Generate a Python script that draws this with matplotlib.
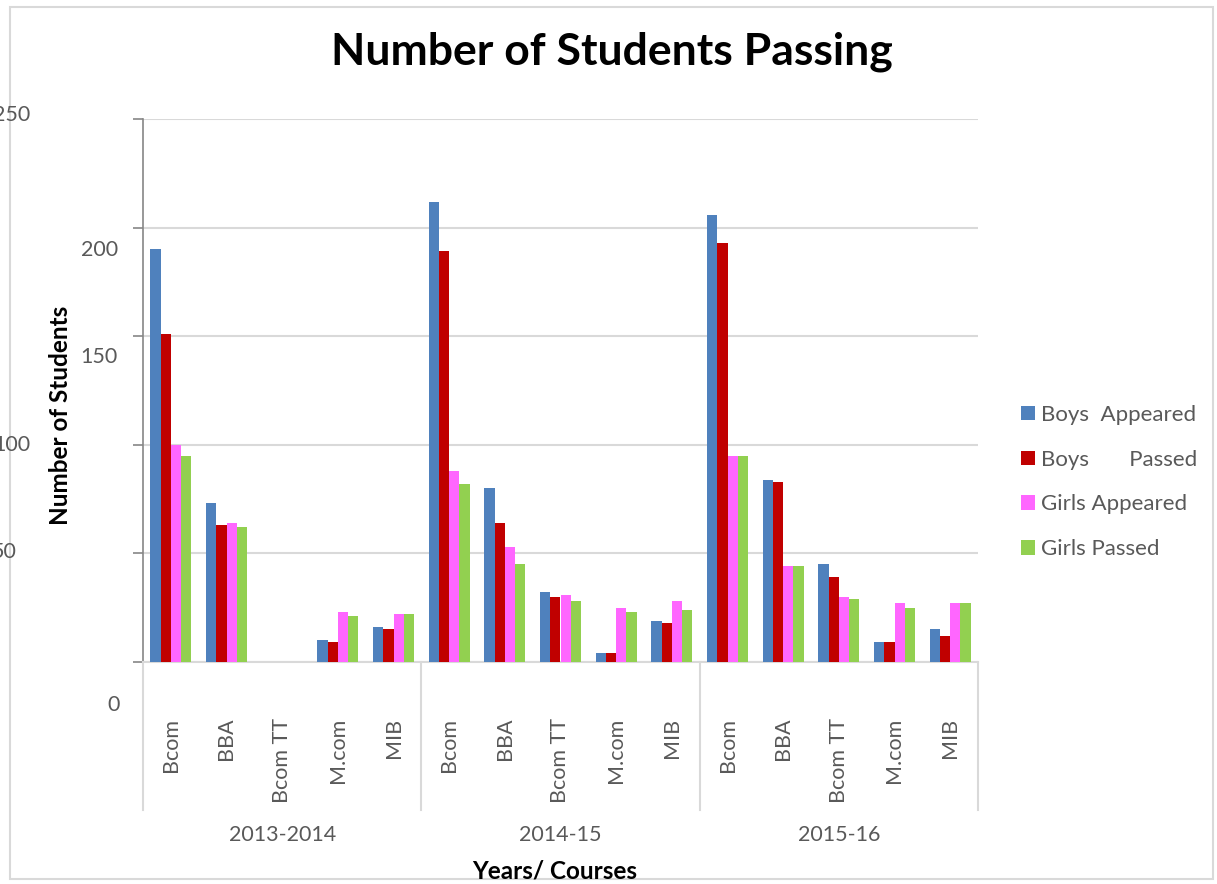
import numpy as np
import matplotlib
matplotlib.use("Agg")
from matplotlib import pyplot as plt
from matplotlib.patches import Rectangle

plt.rcParams["font.family"] = ["Lato", "DejaVu Sans"]

years = ["2013-2014", "2014-15", "2015-16"]
courses = ["Bcom", "BBA", "Bcom TT", "M.com", "MIB"]
series = ["Boys  Appeared", "Boys       Passed", "Girls Appeared", "Girls Passed"]
colors = ["#4f81bd", "#c00000", "#ff66ff", "#92d050"]

boys_appeared = [190, 73, 0, 10, 16, 212, 80, 32, 4, 19, 206, 84, 45, 9, 15]
boys_passed = [151, 63, 0, 9, 15, 189, 64, 30, 4, 18, 193, 83, 39, 9, 12]
girls_appeared = [100, 64, 0, 23, 22, 88, 53, 31, 25, 28, 95, 44, 30, 27, 27]
girls_passed = [95, 62, 0, 21, 22, 82, 45, 28, 23, 24, 95, 44, 29, 25, 27]
values = [boys_appeared, boys_passed, girls_appeared, girls_passed]

# y tick labels sit at odd spots in the original; (label, right edge px, centre px)
ytick_text = [("250", 30, 115), ("200", 118, 250), ("150", 118, 357),
              ("100", 30, 445), ("50", 17, 552), ("0", 120, 705)]

W, H = 1217, 884
fig = plt.figure(figsize=(W / 100, H / 100), dpi=100)
ax = fig.add_axes([143 / W, 1 - 662 / H, 835 / W, 543 / H])

n = len(years) * len(courses)
x = np.arange(n)
bw = 0.185
for i, (vals, lab, col) in enumerate(zip(values, series, colors)):
    ax.bar(x + (i - 1.5) * bw, vals, bw, color=col, label=lab, zorder=3)

ax.set_xlim(-0.5, n - 0.5)
ax.set_ylim(0, 250)
ax.set_yticks(np.arange(0, 251, 50))
ax.yaxis.grid(True, color="#d9d9d9", lw=1.5, zorder=0)
ax.tick_params(axis="y", length=7, width=1.2, color="#868686", labelleft=False)
ax.set_xticks(x)
ax.set_xticklabels(courses * len(years), rotation=90, fontsize=15.5, color="#595959")
ax.tick_params(axis="x", length=0, pad=40)

for s in ["top", "right"]:
    ax.spines[s].set_visible(False)
ax.spines["left"].set_color("#868686")
ax.spines["left"].set_linewidth(1.2)
ax.spines["bottom"].set_color("#d9d9d9")
ax.spines["bottom"].set_linewidth(1.5)

trans = ax.get_xaxis_transform()
for k in range(len(years) + 1):
    xs = k * len(courses) - 0.5
    ax.plot([xs, xs], [0, -0.273], color="#d9d9d9", lw=1.5, transform=trans, clip_on=False)
for k, yr in enumerate(years):
    ax.text(k * len(courses) + 2, -0.318, yr, transform=trans, ha="center", va="center",
            fontsize=15.5, color="#595959")

for lab, xr, yc in ytick_text:
    fig.text(xr / W, 1 - yc / H, lab, ha="right", va="center", fontsize=15.5, color="#595959")

fig.text(612 / W, 1 - 52 / H, "Number of Students Passing", ha="center", va="center",
         fontsize=32, fontweight="bold")
fig.text(555 / W, 1 - 871 / H, "Years/ Courses", ha="center", va="center",
         fontsize=17.5, fontweight="bold")
fig.text(60 / W, 1 - 415 / H, "Number of Students", ha="center", va="center",
         rotation=90, fontsize=17.5, fontweight="bold")

ax.legend(loc="center left", bbox_to_anchor=(1012 / W, 1 - 482 / H),
          bbox_transform=fig.transFigure, frameon=False, fontsize=16,
          handlelength=0.62, handleheight=0.62, handletextpad=0.3,
          labelspacing=1.12, borderaxespad=0, labelcolor="#595959")

fig.patches.append(Rectangle((10 / W, 5 / H), 1203 / W, 872 / H, transform=fig.transFigure,
                             fill=False, edgecolor="#d9d9d9", lw=1.5))

plt.savefig("out.png", dpi=100)
